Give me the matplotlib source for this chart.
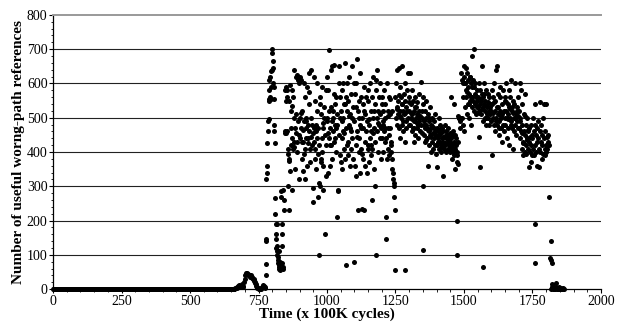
import numpy as np
import matplotlib
matplotlib.use("Agg")
import matplotlib.pyplot as plt
from matplotlib.ticker import MultipleLocator

# idle phase: nothing useful, all zero
idle_x = np.arange(0, 662, 2)
idle_y = np.zeros(len(idle_x))

# small bump before the main phase
bump_x = [660, 662, 665, 668, 670, 672, 675, 678, 680, 682, 685, 688, 690, 692, 695,
          698, 700, 702, 704, 706, 708, 710, 712, 714, 716, 718, 720, 722, 724, 726,
          728, 730, 732, 734, 736, 738, 740, 742, 744, 746, 748, 750, 752, 755, 758,
          760, 763, 766, 768, 770, 772, 774]
bump_y = [0, 1, 2, 3, 4, 6, 8, 10, 12, 10, 8, 12, 15, 10, 6,
          20, 30, 40, 45, 48, 46, 44, 42, 40, 42, 38, 36, 40, 35, 32,
          34, 30, 28, 25, 22, 18, 14, 10, 6, 4, 2, 1, 0, 0, 1,
          2, 5, 8, 12, 10, 6, 3]

# ramp up
ramp_x = [776, 777, 778, 779, 779, 780, 780, 782, 783, 785, 787, 788, 789, 790, 790,
          792, 793, 795, 796, 797, 798, 800, 801, 802, 803, 804, 805, 806, 807, 808,
          809, 810, 811, 812, 813, 814, 815, 816, 817, 818, 819, 820, 821, 822, 823,
          824, 825, 826, 828, 830, 832, 833, 834, 835, 836, 837, 838, 839, 840, 842,
          844, 845, 846, 848, 849]
ramp_y = [40, 72, 140, 145, 320, 340, 360, 425, 460, 490, 495, 555, 550, 580, 610,
          620, 560, 555, 590, 635, 690, 700, 640, 665, 645, 600, 590, 555, 480, 460,
          425, 265, 220, 190, 160, 145, 120, 110, 100, 190, 125, 85, 75, 95, 110,
          70, 65, 60, 80, 55, 285, 270, 160, 190, 125, 75, 60, 65, 290, 260,
          230, 455, 460, 580, 550]

# sample offsets inside each 50-cycle window of the busy phase
offsets = [0, 1, 3, 4, 6, 7, 9, 10, 12, 13, 15, 16, 18, 19, 21, 22, 24, 25, 27, 28,
           30, 31, 33, 34, 36, 37, 39, 40, 42, 43, 45, 46, 48, 49, 5, 11, 17, 23, 29, 35]

w850 = [590, 455, 560, 460, 395, 410, 300, 230, 550, 380, 595, 345, 520, 420, 440, 580, 290, 560, 410, 500,
        640, 430, 470, 350, 620, 510, 400, 625, 430, 490, 610, 320, 600, 450, 580, 375, 470, 535, 415, 455]
w900 = [620, 500, 440, 470, 610, 430, 520, 380, 465, 345, 600, 490, 410, 560, 320, 470, 440, 500, 360, 590,
        480, 425, 540, 630, 460, 410, 370, 500, 445, 640, 420, 480, 295, 455, 515, 430, 395, 490, 440, 575]
w950 = [255, 470, 620, 430, 550, 380, 480, 350, 600, 440, 520, 270, 470, 310, 100, 420, 560, 300, 510, 380,
        440, 590, 400, 360, 470, 290, 530, 500, 160, 450, 420, 580, 330, 490, 410, 460, 395, 540, 370, 485]
w1000 = [620, 500, 340, 580, 697, 440, 520, 360, 470, 640, 420, 530, 650, 380, 500, 460, 570, 430, 655, 480,
         540, 400, 470, 560, 210, 510, 290, 285, 600, 450, 650, 500, 390, 560, 455, 420, 490, 520, 440, 480]
w1050 = [520, 370, 580, 440, 350, 600, 500, 460, 540, 410, 660, 380, 560, 470, 70, 520, 600, 430, 390, 550,
         480, 620, 360, 510, 460, 570, 410, 500, 650, 440, 380, 530, 600, 80, 490, 455, 540, 420, 505, 470]
w1100 = [490, 360, 570, 420, 330, 600, 670, 460, 230, 520, 440, 550, 400, 630, 480, 340, 560, 410, 500, 235,
         380, 540, 470, 590, 230, 430, 510, 360, 460, 560, 340, 490, 410, 580, 530, 445, 500, 470, 395, 520]
w1150 = [550, 420, 370, 480, 600, 440, 520, 390, 460, 560, 410, 260, 500, 620, 350, 470, 540, 430, 300, 100,
         580, 500, 640, 460, 520, 400, 560, 480, 440, 600, 510, 380, 470, 540, 495, 420, 455, 520, 610, 485]
w1200 = [560, 440, 520, 480, 400, 580, 460, 500, 430, 540, 210, 145, 380, 600, 470, 410, 520, 390, 450, 560,
         510, 470, 430, 400, 380, 520, 350, 340, 320, 310, 300, 270, 230, 55, 490, 470, 440, 505, 555, 420]
w1250 = [560, 500, 600, 530, 480, 640, 550, 510, 470, 645, 590, 520, 440, 560, 500, 650, 540, 480, 520, 460,
         570, 510, 430, 550, 600, 490, 530, 470, 580, 520, 500, 630, 545, 480, 525, 565, 505, 540, 490, 515]
w1300 = [560, 520, 480, 630, 540, 500, 460, 580, 510, 470, 550, 430, 520, 490, 560, 450, 530, 500, 470, 545,
         510, 480, 440, 520, 490, 570, 460, 505, 605, 480, 520, 455, 500, 540, 515, 495, 470, 530, 485, 500]
w1350 = [300, 560, 490, 450, 520, 470, 430, 550, 480, 500, 440, 470, 360, 510, 460, 420, 490, 530, 450, 400,
         470, 480, 430, 500, 455, 410, 470, 440, 490, 420, 460, 510, 395, 450, 480, 435, 465, 500, 445, 475]
w1400 = [470, 420, 355, 460, 440, 500, 410, 450, 430, 480, 400, 455, 420, 440, 470, 330, 430, 460, 410, 445,
         420, 480, 400, 440, 460, 425, 450, 410, 470, 435, 420, 445, 400, 455, 430, 465, 415, 445, 425, 450]
w1450 = [430, 560, 410, 440, 380, 420, 460, 400, 540, 430, 390, 450, 410, 350, 420, 440, 370, 400, 430, 365,
         500, 500, 500, 500, 490, 500, 630, 500, 610, 500, 560, 480, 600, 460, 415, 450, 425, 390, 505, 470]
w1500 = [650, 620, 530, 600, 580, 645, 560, 510, 630, 590, 540, 610, 500, 570, 550, 620, 600, 480, 560, 680,
         530, 590, 610, 550, 520, 700, 570, 540, 600, 510, 560, 580, 530, 550, 600, 575, 540, 620, 560, 590]
w1550 = [560, 530, 445, 600, 520, 540, 580, 355, 550, 510, 650, 570, 530, 490, 560, 540, 600, 520, 500, 550,
         480, 580, 530, 510, 570, 500, 545, 520, 480, 560, 510, 530, 490, 540, 515, 555, 525, 570, 500, 535]
w1600 = [520, 580, 390, 540, 500, 560, 480, 600, 520, 460, 550, 500, 640, 650, 530, 480, 510, 570, 490, 450,
         560, 520, 590, 470, 500, 540, 430, 510, 580, 480, 520, 460, 550, 500, 515, 545, 490, 530, 470, 505]
w1650 = [560, 480, 520, 600, 500, 440, 540, 510, 470, 580, 530, 420, 500, 560, 610, 490, 530, 470, 520, 410,
         550, 500, 460, 540, 480, 600, 510, 450, 530, 490, 520, 560, 470, 505, 545, 495, 525, 480, 515, 500]
w1700 = [520, 470, 600, 440, 500, 580, 460, 410, 540, 480, 430, 390, 510, 460, 400, 570, 450, 420, 480, 395,
         440, 500, 410, 460, 355, 430, 470, 400, 445, 370, 420, 480, 390, 450, 490, 455, 425, 505, 435, 465]

windows = {850: w850, 900: w900, 950: w950, 1000: w1000, 1050: w1050, 1100: w1100,
           1150: w1150, 1200: w1200, 1250: w1250, 1300: w1300, 1350: w1350, 1400: w1400,
           1450: w1450, 1500: w1500, 1550: w1550, 1600: w1600, 1650: w1650, 1700: w1700}

# winding down
late_x = [1750, 1752, 1753, 1755, 1756, 1758, 1759, 1761, 1762, 1764, 1765, 1767, 1768, 1770,
          1771, 1773, 1774, 1776, 1777, 1779, 1780, 1782, 1783, 1785, 1786, 1788, 1789, 1791,
          1792, 1794, 1795, 1797, 1798, 1800, 1801, 1803, 1804, 1806, 1807, 1808]
late_y = [440, 500, 410, 460, 390, 480, 420, 540, 450, 400, 470, 430, 360, 490,
          440, 410, 355, 545, 460, 400, 430, 480, 380, 450, 420, 500, 395, 540,
          440, 410, 390, 460, 420, 540, 400, 445, 410, 430, 450, 420]

tail_x = [1810, 1812, 1815, 1817, 1819, 1820, 1822, 1818, 1821, 1823, 1825, 1827, 1829, 1831,
          1833, 1835, 1837, 1839, 1841, 1843, 1845, 1847, 1849, 1851, 1853, 1855, 1857, 1859,
          1861, 1863, 1865, 1826, 1836, 1846]
tail_y = [270, 420, 90, 85, 140, 15, 75, 0, 2, 5, 0, 3, 1, 0,
          4, 18, 2, 0, 3, 1, 0, 2, 0, 1, 0, 3, 0, 1,
          0, 2, 0, 8, 5, 6]

# stray low samples
stray_x = [1285, 1350, 1475, 1475, 1570, 1760, 1760]
stray_y = [55, 115, 200, 100, 65, 190, 75]

xs = list(idle_x) + bump_x + ramp_x
ys = list(idle_y) + bump_y + ramp_y
for start, vals in windows.items():
    xs += [start + o for o in offsets]
    ys += vals
xs += late_x + tail_x + stray_x
ys += late_y + tail_y + stray_y

plt.rcParams['font.family'] = ['Liberation Serif', 'DejaVu Serif']

fig = plt.figure(figsize=(6.17, 3.23), dpi=100)
ax = fig.add_axes([0.086, 0.105, 0.888, 0.849])
ax.scatter(xs, ys, s=13, color='black', linewidths=0, zorder=3, clip_on=False)

ax.set_xlim(0, 2000)
ax.set_ylim(0, 800)
ax.set_xticks(range(0, 2001, 250))
ax.set_yticks(range(0, 801, 100))
ax.xaxis.set_minor_locator(MultipleLocator(50))
ax.yaxis.set_minor_locator(MultipleLocator(20))
ax.tick_params(which='major', direction='out', length=3, width=0.8, labelsize=10, pad=1)
ax.tick_params(which='minor', direction='out', length=1.8, width=0.6)

for v in range(100, 800, 100):
    ax.axhline(v, color='#222222', lw=0.8, zorder=1)
ax.spines['top'].set_color('#999999')
ax.spines['top'].set_linewidth(1.4)
ax.spines['right'].set_visible(False)
ax.spines['bottom'].set_linewidth(0.9)
ax.spines['left'].set_linewidth(0.9)

ax.set_xlabel('Time (x 100K cycles)', fontweight='bold', fontsize=11, labelpad=0)
ax.set_ylabel('Number of useful worng-path references', fontweight='bold', fontsize=11, labelpad=1)

plt.savefig('out.png', dpi=100)
